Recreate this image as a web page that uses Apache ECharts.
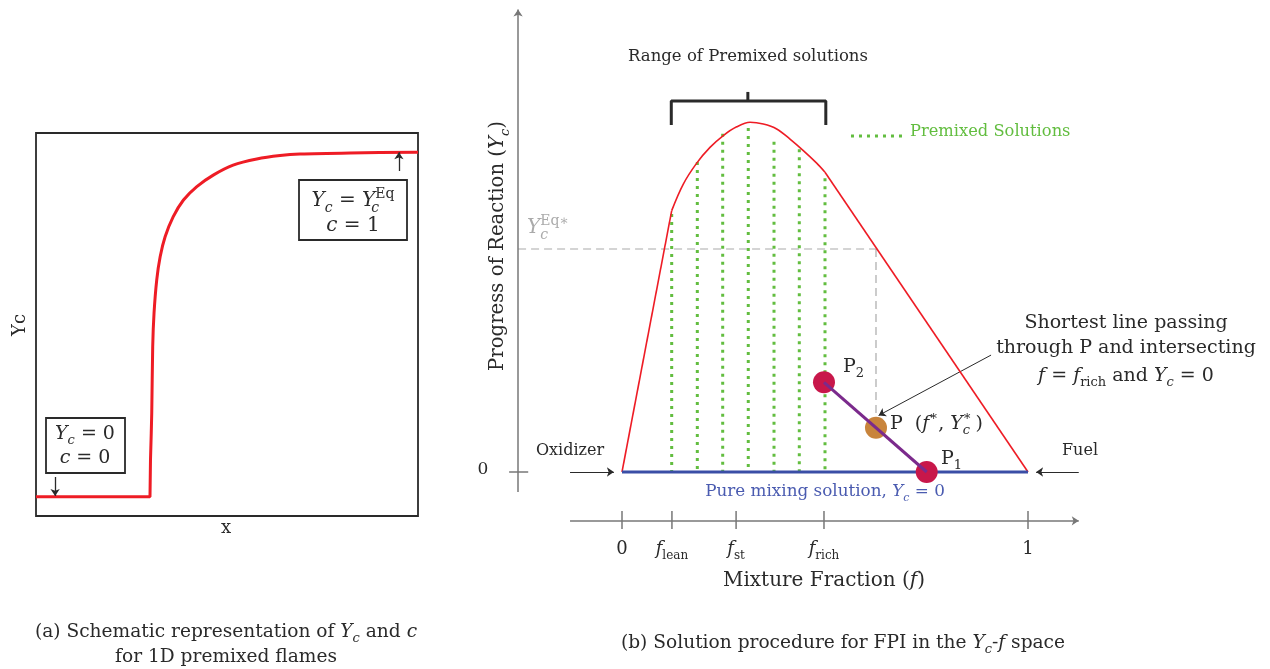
<!DOCTYPE html>
<html><head><meta charset="utf-8">
<script src="https://cdn.jsdelivr.net/npm/echarts@6/dist/echarts.min.js"></script>
<style>html,body{margin:0;padding:0;background:#fff}#c{width:1270px;height:669px}</style>
</head><body><div id="c"></div>
<script>
// ---------------- DATA ----------------
// Panel (a): normalized progress variable profile through a 1D premixed flame
const flameX  = [0, 0.2984, 0.2997, 0.303, 0.3055, 0.309, 0.316, 0.325, 0.338, 0.359, 0.386, 0.421, 0.464, 0.516, 0.578, 0.639, 0.691, 0.822, 1.0];
const flameYc = [0.05, 0.05, 0.146, 0.269, 0.442, 0.530, 0.616, 0.677, 0.729, 0.781, 0.825, 0.860, 0.890, 0.916, 0.932, 0.941, 0.945, 0.948, 0.950];

// Panel (b): equilibrium envelope in the Yc–f space
const envF  = [0, 0.1224, 0.151, 0.184, 0.2167, 0.2495, 0.2825, 0.3153, 0.348, 0.381, 0.4138, 0.4466, 0.4795, 0.500, 1.0];
const envYc = [0, 0.749, 0.825, 0.885, 0.930, 0.964, 0.989, 1.002, 0.997, 0.983, 0.954, 0.921, 0.885, 0.859, 0];
// premixed solutions (dotted verticals)
const premixF   = [0.1224, 0.1855, 0.248, 0.311, 0.3744, 0.4367, 0.5];
const premixTop = [0.739, 0.888, 0.969, 0.986, 0.946, 0.925, 0.842];
// mixture-fraction ticks
const fTicks      = [0, 0.123, 0.281, 0.4975, 1];
const fTickLabels = ['0', '{i|f}{sb|lean}', '{i|f}{sb|st}', '{i|f}{sb|rich}', '1'];
const fLean = 0.1224, fRich = 0.5;
const ycEqStar = 0.639;
const pointP2 = [0.4975, 0.257];
const pointP  = [0.6256, 0.127];
const pointP1 = [0.7505, 0];

// ---------------- STYLE / LAYOUT ----------------
const F = 'DejaVu Serif';
const INK = '#2a2a2a';
function rs(size, color) {
  const lh = Math.round(size * 1.4);
  const s = Math.round(size * 0.68);
  const dSub = Math.round(size * 0.25), dSup = Math.round(size * 0.33);
  const base = {fontFamily: F, color: color};
  return {
    n:   Object.assign({}, base, {fontSize: size, lineHeight: lh, verticalAlign: 'middle'}),
    i:   Object.assign({}, base, {fontSize: size, lineHeight: lh, verticalAlign: 'middle', fontStyle: 'italic'}),
    sb:  Object.assign({}, base, {fontSize: s, lineHeight: lh - 2 * dSub, verticalAlign: 'bottom'}),
    sbi: Object.assign({}, base, {fontSize: s, lineHeight: lh - 2 * dSub, verticalAlign: 'bottom', fontStyle: 'italic'}),
    sbz: Object.assign({}, base, {fontSize: s, lineHeight: lh - 2 * dSub, verticalAlign: 'bottom', fontStyle: 'italic', width: 0.01}),
    sp:  Object.assign({}, base, {fontSize: s, lineHeight: lh - 2 * dSup, verticalAlign: 'top'})
  };
}
function T(x, y, text, size, opts) {
  opts = opts || {};
  const color = opts.color || INK;
  const el = {
    type: 'text', x: x, y: y, z: 100,
    style: {
      text: text.indexOf('{') < 0 ? '{n|' + text + '}' : text,
      rich: rs(size, color), fill: color,
      fontFamily: F, fontSize: size,
      align: opts.align || 'center', verticalAlign: 'middle'
    }
  };
  if (opts.rot) el.rotation = opts.rot;
  return el;
}

const chart = echarts.init(document.getElementById('c'), null, {renderer: 'canvas'});

function line(gi, pts, color, width, type, extra) {
  return Object.assign({
    type: 'line', xAxisIndex: gi, yAxisIndex: gi, data: pts, showSymbol: false, symbol: 'none',
    lineStyle: {color: color, width: width, type: type || 'solid', cap: 'butt'}, silent: true, clip: false, z: 3
  }, extra || {});
}
function arrow(gi, a, b, color, width, size) {
  return {
    type: 'lines', coordinateSystem: 'cartesian2d', xAxisIndex: gi, yAxisIndex: gi,
    symbol: ['none', 'arrow'], symbolSize: size || 8, silent: true, z: 4,
    lineStyle: {color: color, width: width, opacity: 1, curveness: 0},
    data: [{coords: [a, b]}]
  };
}
const pairs = (xs, ys) => xs.map((x, k) => [x, ys[k]]);

const series = [];
// ---- panel (a): straight foot + smooth rise
const flame = pairs(flameX, flameYc);
series.push(line(0, flame.slice(0, 3), '#ee1c25', 3));
series.push(line(0, flame.slice(2), '#ee1c25', 3, 'solid', {smooth: 0.3}));
series.push(arrow(0, [0.05, 0.102], [0.05, 0.052], INK, 1.3, 7));
series.push(arrow(0, [0.950, 0.901], [0.950, 0.950], INK, 1.3, 7));

// ---- panel (b)
const AX = '#777';
const yAxF = -0.256, xAxY = -0.140;
series.push(arrow(1, [yAxF, -0.057], [yAxF, 1.325], AX, 1.5, 7));
series.push(line(1, [[-0.278, 0], [-0.231, 0]], AX, 1.5));
series.push(arrow(1, [-0.128, xAxY], [1.125, xAxY], AX, 1.5, 7));
fTicks.forEach(f => series.push(line(1, [[f, -0.112], [f, -0.163]], AX, 1.5)));
// dashed guides for Yc^Eq*
series.push(line(1, [[yAxF, ycEqStar], [0.6305, ycEqStar]], '#aaa', 1.2, [8, 5]));
series.push(line(1, [[pointP[0], ycEqStar], [pointP[0], 0.16]], '#aaa', 1.2, [8, 5]));
// premixed dotted verticals
const GREEN = '#62bd3f';
premixF.forEach((f, k) => series.push(line(1, [[f, premixTop[k]], [f, 0]], GREEN, 3, [3, 5])));
// legend sample
series.push(line(1, [[0.564, 0.963], [0.697, 0.963]], GREEN, 3, [3, 5]));
// envelope: straight lean branch, smooth cap, straight rich branch
const env = pairs(envF, envYc);
const iL = envF.indexOf(fLean), iR = envF.indexOf(fRich);
series.push(line(1, env.slice(0, iL + 1), '#ee1c25', 1.6, 'solid', {z: 5}));
series.push(line(1, env.slice(iL, iR + 1), '#ee1c25', 1.6, 'solid', {z: 5, smooth: 0.35}));
series.push(line(1, env.slice(iR), '#ee1c25', 1.6, 'solid', {z: 5}));
// pure mixing line
series.push(line(1, [[0, 0], [1, 0]], '#3a4ea6', 3, 'solid', {z: 6}));
// bracket
series.push(line(1, [[fLean - 0.001, 0.994], [fLean - 0.001, 1.063], [fRich + 0.002, 1.063], [fRich + 0.002, 0.994]], INK, 3, 'solid', {z: 6}));
series.push(line(1, [[0.310, 1.063], [0.310, 1.089]], INK, 3));
// oxidizer / fuel arrows
series.push(arrow(1, [-0.128, 0], [-0.02, 0], INK, 1.2, 7));
series.push(arrow(1, [1.125, 0], [1.02, 0], INK, 1.2, 7));
// annotation arrow
series.push(arrow(1, [0.909, 0.335], [0.632, 0.162], INK, 1, 7));
// P2-P1 line and points
series.push(line(1, [pointP2, pointP1], '#7b2a8c', 3, 'solid', {z: 8}));
series.push({type: 'scatter', xAxisIndex: 1, yAxisIndex: 1, symbolSize: 22, z: 7, silent: true,
  itemStyle: {color: '#c8174a', opacity: 1}, data: [pointP2, pointP1]});
series.push({type: 'scatter', xAxisIndex: 1, yAxisIndex: 1, symbolSize: 22, z: 7, silent: true,
  itemStyle: {color: '#c8843c', opacity: 1}, data: [pointP]});

const hidden = {show: false};
chart.setOption({
  animation: false,
  backgroundColor: '#fff',
  grid: [
    {left: 36, top: 133, width: 382, height: 383, show: true, borderColor: INK, borderWidth: 1.8, backgroundColor: 'transparent'},
    {left: 500.2, top: 0.85, width: 730.8, height: 610.75, show: false}
  ],
  xAxis: [
    {type: 'value', gridIndex: 0, min: 0, max: 1, axisLine: hidden, axisTick: hidden, axisLabel: hidden, splitLine: hidden},
    {type: 'value', gridIndex: 1, min: -0.3, max: 1.5, axisLine: hidden, axisTick: hidden, axisLabel: hidden, splitLine: hidden}
  ],
  yAxis: [
    {type: 'value', gridIndex: 0, min: 0, max: 1, axisLine: hidden, axisTick: hidden, axisLabel: hidden, splitLine: hidden},
    {type: 'value', gridIndex: 1, min: -0.4, max: 1.35, axisLine: hidden, axisTick: hidden, axisLabel: hidden, splitLine: hidden}
  ],
  series: series
});

// ---------------- TEXT ----------------
const px = p => chart.convertToPixel({gridIndex: 1}, p);
const g = [];
// panel (a)
g.push({type: 'rect', shape: {x: 46, y: 418, width: 79, height: 55}, style: {fill: '#fff', stroke: INK, lineWidth: 1.8}, z: 90});
g.push({type: 'rect', shape: {x: 299, y: 180, width: 108, height: 60}, style: {fill: '#fff', stroke: INK, lineWidth: 1.8}, z: 90});
g.push(T(85, 434, '{i|Y}{sbi|c}{n| = 0}', 19));
g.push(T(85, 458, '{i|c}{n| = 0}', 19));
g.push(T(353, 201, '{i|Y}{sbi|c}{n| = }{i|Y}{sbz|c}{sp|Eq}', 20));
g.push(T(353, 226, '{i|c}{n| = 1}', 20));
g.push(T(20, 325, 'Yc', 18, {rot: Math.PI / 2}));
g.push(T(226, 528, 'x', 18));
g.push(T(226, 632, '{n|(a) Schematic representation of }{i|Y}{sbi|c}{n| and }{i|c}', 18.6));
g.push(T(226, 657, 'for 1D premixed flames', 18.6));
// panel (b)
g.push(T(843, 643, '{n|(b) Solution procedure for FPI in the }{i|Y}{sbi|c}{n|-}{i|f}{n| space}', 18.6));
g.push(T(748, 57, 'Range of Premixed solutions', 16.5));
g.push(T(910, 132, 'Premixed Solutions', 16.3, {align: 'left', color: GREEN}));
g.push(T(527, 228, '{i|Y}{sbz|c}{sp|Eq∗}', 20, {align: 'left', color: '#aaa'}));
g.push(T(498, 246, '{n|Progress of Reaction (}{i|Y}{sbi|c}{n|)}', 19.7, {rot: Math.PI / 2}));
g.push(T(483, 470, '0', 17));
g.push(T(570, 451, 'Oxidizer', 16));
g.push(T(1080, 451, 'Fuel', 16));
g.push(T(825, 492, '{n|Pure mixing solution, }{i|Y}{sbi|c}{n| = 0}', 16.8, {color: '#4a5bb0'}));
fTicks.forEach((f, k) => {
  const p = px([f, 0]);
  g.push(T(p[0], 549, fTickLabels[k], 18));
});
g.push(T(824, 581, '{n|Mixture Fraction (}{i|f}{n|)}', 20));
g.push(T(843, 367, '{n|P}{sb|2}', 19, {align: 'left'}));
g.push(T(890, 424, '{n|P  (}{i|f}{sp|∗}{n|, }{i|Y}{sbz|c}{sp|∗}{n|\u2009)}', 19, {align: 'left'}));
g.push(T(941, 459, '{n|P}{sb|1}', 19, {align: 'left'}));
g.push(T(1126, 323, 'Shortest line passing', 19));
g.push(T(1126, 348, 'through P and intersecting', 19));
g.push(T(1126, 376, '{i|f}{n| = }{i|f}{sb|rich}{n| and }{i|Y}{sbi|c}{n| = 0}', 19));
chart.setOption({graphic: {elements: g}});
</script>
</body></html>
